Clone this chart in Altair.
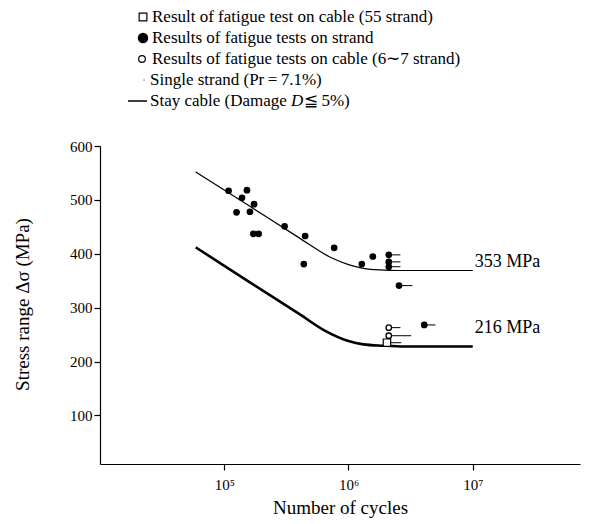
import altair as alt
import pandas as pd

# ---- data ----
# Filled circles: fatigue tests on strand (cycles, stress MPa)
strand_N = [1.084e5, 1.524e5, 1.39e5, 1.738e5, 1.256e5, 1.61e5, 1.714e5, 1.892e5,
            3.06e5, 4.48e5, 4.37e5, 7.67e5, 1.28e6, 1.57e6,
            2.11e6, 2.11e6, 2.11e6, 2.55e6, 4.07e6]
strand_S = [517, 518, 504, 492, 477, 478, 437, 437,
            451, 433, 381, 411, 381, 395,
            398, 385, 376, 341, 268]

# Open circles: cable tests (6~7 strand)
cable7_N = [2.11e6, 2.11e6]
cable7_S = [263, 248]

# Open square: cable test (55 strand)
cable55_N = [2.04e6]
cable55_S = [235]

# Run-outs (arrows): start cycles, end cycles, stress
runout_N = [2.11e6, 2.11e6, 2.11e6, 2.55e6, 4.07e6, 2.11e6, 2.11e6, 2.04e6]
runout_end = [2.62e6, 2.62e6, 2.62e6, 3.27e6, 5.01e6, 2.62e6, 3.2e6, 2.66e6]
runout_S = [398, 385, 376, 341, 268, 263, 248, 235]

# Single strand curve (Pr = 7.1%)
single_N = [5.89e4, 1.585e5, 3.98e5, 7.08e5, 1.0e6, 1.318e6, 1.778e6, 2.51e6, 1.0e7]
single_S = [552, 489, 430, 394, 380, 373, 370, 369, 369]

# Stay cable curve (Damage D <= 5%)
stay_N = [5.89e4, 1.585e5, 3.98e5, 6.61e5, 1.0e6, 1.318e6, 1.905e6, 2.82e6, 1.0e7]
stay_S = [412, 348, 289, 256, 238, 232, 229.5, 228, 228]

annot_text = ["353 MPa", "216 MPa"]
annot_N = [1.04e7, 1.04e7]
annot_S = [385, 263]

legend_labels = [
    "Result of fatigue test on cable (55 strand)",
    "Results of fatigue tests on strand",
    "Results of fatigue tests on cable (6\u223c7 strand)",
    "Single strand (Pr\u2009=\u20097.1%)",
]

FONT = "Liberation Serif"
LFS = 17

xscale = alt.Scale(type="log", domain=[1e4, 7.3e7])
yscale = alt.Scale(domain=[10, 600])

xax = alt.Axis(values=[1e5, 1e6, 1e7], grid=False, tickSize=6, labelPadding=7,
               labelExpr="datum.value == 100000 ? '10\u2075' : datum.value == 1000000 ? '10\u2076' : '10\u2077'",
               title="Number of cycles", titlePadding=6, titleFontSize=19)
yax = alt.Axis(values=[100, 200, 300, 400, 500, 600], grid=False, tickSize=6,
               labelPadding=2, title="Stress range \u0394\u03c3 (MPa)",
               titleX=-78, titleY=158, titleAngle=270, titleAlign="center",
               titleBaseline="middle", titleFontSize=19)

single_df = pd.DataFrame({"N": single_N, "S": single_S})
stay_df = pd.DataFrame({"N": stay_N, "S": stay_S})
strand_df = pd.DataFrame({"N": strand_N, "S": strand_S})
c7_df = pd.DataFrame({"N": cable7_N, "S": cable7_S})
c55_df = pd.DataFrame({"N": cable55_N, "S": cable55_S})
run_df = pd.DataFrame({"N": runout_N, "N2": runout_end, "S": runout_S})
ann_df = pd.DataFrame({"N": annot_N, "S": annot_S, "t": annot_text})

X = alt.X("N:Q", scale=xscale, axis=xax)
Y = alt.Y("S:Q", scale=yscale, axis=yax)

single = alt.Chart(single_df).mark_line(color="black", strokeWidth=1.2, interpolate="monotone").encode(x=X, y=Y)
stay = alt.Chart(stay_df).mark_line(color="black", strokeWidth=2.6, interpolate="monotone").encode(
    x=alt.X("N:Q", scale=xscale), y=alt.Y("S:Q", scale=yscale))
runs = alt.Chart(run_df).mark_rule(color="black", strokeWidth=1).encode(
    x=alt.X("N:Q", scale=xscale), x2="N2:Q", y=alt.Y("S:Q", scale=yscale))
strand = alt.Chart(strand_df).mark_point(filled=True, color="black", size=45, opacity=1).encode(
    x=alt.X("N:Q", scale=xscale), y=alt.Y("S:Q", scale=yscale))
c7 = alt.Chart(c7_df).mark_point(filled=True, fill="white", stroke="black", strokeWidth=1.3, size=30, opacity=1).encode(
    x=alt.X("N:Q", scale=xscale), y=alt.Y("S:Q", scale=yscale))
c55 = alt.Chart(c55_df).mark_point(shape="square", filled=True, fill="white", stroke="black", strokeWidth=1.2, size=55, opacity=1).encode(
    x=alt.X("N:Q", scale=xscale), y=alt.Y("S:Q", scale=yscale))
ann = alt.Chart(ann_df).mark_text(align="left", baseline="middle", font=FONT, fontSize=18, color="black").encode(
    x=alt.X("N:Q", scale=xscale), y=alt.Y("S:Q", scale=yscale), text="t:N")

one = alt.Data(values=[{}])
ROW_Y = [-129, -108, -87, -66, -45]
legend_layers = []
# symbols
legend_layers.append(alt.Chart(one).mark_point(shape="square", filled=True, fill="white", stroke="black", strokeWidth=1.2, size=60, opacity=1).encode(
    x=alt.value(43), y=alt.value(ROW_Y[0])))
legend_layers.append(alt.Chart(one).mark_point(filled=True, color="black", size=110, opacity=1).encode(
    x=alt.value(43), y=alt.value(ROW_Y[1])))
legend_layers.append(alt.Chart(one).mark_point(filled=True, fill="white", stroke="black", strokeWidth=1.2, size=45, opacity=1).encode(
    x=alt.value(42), y=alt.value(ROW_Y[2])))
legend_layers.append(alt.Chart(one).mark_point(filled=True, color="#999999", size=3, opacity=1).encode(
    x=alt.value(44), y=alt.value(ROW_Y[3])))
legend_layers.append(alt.Chart(one).mark_rule(color="black", strokeWidth=1.5).encode(
    x=alt.value(28), x2=alt.value(47), y=alt.value(ROW_Y[4])))
for i, lab in enumerate(legend_labels):
    legend_layers.append(alt.Chart(one).mark_text(align="left", baseline="middle", font=FONT, fontSize=LFS, color="black").encode(
        x=alt.value(52 if i < 3 else 50), y=alt.value(ROW_Y[i]), text=alt.value(lab)))
legend_layers.append(alt.Chart(one).mark_text(align="left", baseline="middle", font=FONT, fontSize=LFS, color="black").encode(
    x=alt.value(50), y=alt.value(ROW_Y[4]), text=alt.value("Stay cable (Damage ")))
legend_layers.append(alt.Chart(one).mark_text(align="left", baseline="middle", font=FONT, fontSize=LFS, fontStyle="italic", color="black").encode(
    x=alt.value(191), y=alt.value(ROW_Y[4]), text=alt.value("D")))
legend_layers.append(alt.Chart(one).mark_text(align="left", baseline="middle", font=FONT, fontSize=LFS, color="black").encode(
    x=alt.value(204), y=alt.value(ROW_Y[4]), text=alt.value("\u2266\u20095%)")))

chart = alt.layer(single, stay, runs, strand, c7, c55, ann, *legend_layers).properties(
    width=480, height=318,
    background="white",
    autosize=alt.AutoSizeParams(type="none"),
    padding={"left": 92, "top": 138, "right": 2, "bottom": 58},
).configure_view(stroke=None).configure_axis(
    domainColor="black", tickColor="black", labelColor="black", titleColor="black",
    labelFont=FONT, titleFont=FONT, labelFontSize=15, titleFontSize=19,
    titleFontWeight="normal", domainWidth=1.2, tickWidth=1.2,
)

chart.save("out.html", embed_options={"renderer": "svg", "actions": False})
